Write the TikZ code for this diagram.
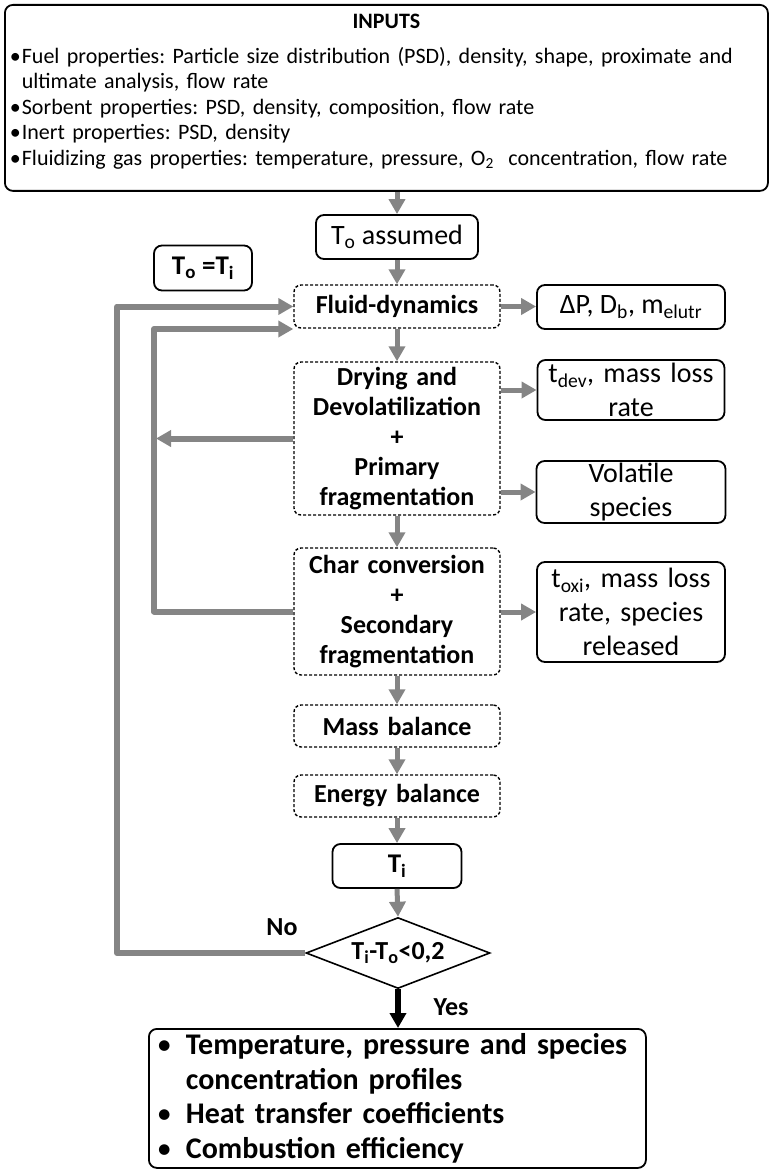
\documentclass[tikz,border=0pt]{standalone}
\usepackage{fontspec}
\setmainfont{Carlito}
\frenchspacing
\usetikzlibrary{positioning,calc,shapes.geometric,arrows.meta}
\definecolor{flowgray}{HTML}{858585}
\tikzset{
  inbox/.style={draw=black, line width=1.8pt, rounded corners=8pt, align=center,
                inner sep=2pt, font=\fontsize{28}{34}\selectfont},
  stepbox/.style={draw=black, line width=1.4pt, dash pattern=on 3pt off 2pt, rounded corners=7pt,
                  align=center, minimum width=206pt, text width=200pt, inner sep=0pt,
                  font=\bfseries\fontsize{26}{30}\selectfont},
  flow/.style={-{Triangle[length=15pt,width=16pt]}, draw=flowgray, line width=5pt},
  back/.style={flow, line width=6pt, line join=round},
  tag/.style={font=\bfseries\fontsize{26}{30}\selectfont},
}
\newcommand{\inbullet}{\makebox[12pt][l]{\textbullet}}
\newcommand{\outbullet}{\makebox[29pt][l]{\mdseries\textbullet}}
\begin{document}
\begin{tikzpicture}[x=1pt,y=-1pt]
  \useasboundingbox (0,0) rectangle (770,1169);
  % inputs
  \node[inbox, anchor=north west, minimum width=763pt, minimum height=186pt, text width=753pt,
        align=left, font=\fontsize{22}{25.5}\selectfont] (inputs) at (4,4)
    {\makebox[753pt][c]{\bfseries INPUTS}\\[9pt]
     \inbullet Fuel properties: Particle size distribution (PSD), density, shape, proximate and\\
     \hspace*{12pt}ultimate analysis, flow rate\\
     \inbullet Sorbent properties: PSD, density, composition, flow rate\\
     \inbullet Inert properties: PSD, density\\
     \inbullet Fluidizing gas properties: temperature, pressure, O\textsubscript{2}\ \ concentration, flow rate\rule[-16pt]{0pt}{16pt}};
  % main column
  \node[inbox, minimum width=162pt, minimum height=44pt] (tassumed) at (397,237) {T\textsubscript{o} assumed};
  \node[inbox, font=\bfseries\fontsize{27}{30}\selectfont, minimum width=98pt, minimum height=45pt] (tequal) at (203,268) {T\textsubscript{o} =T\textsubscript{i}};
  \node[stepbox, minimum height=43pt] (fluid) at (397,306.5) {Fluid-dynamics};
  \node[stepbox, minimum height=153pt] (drying) at (397,438.5) {Drying and\\Devolatilization\\+\\Primary\\fragmentation};
  \node[stepbox, minimum height=127pt] (char) at (397,611.5) {Char conversion\\+\\Secondary\\fragmentation};
  \node[stepbox, minimum height=42pt] (mass) at (397,726) {Mass balance};
  \node[stepbox, minimum height=42pt] (energy) at (397,796) {Energy balance};
  \node[inbox, font=\bfseries\fontsize{27}{30}\selectfont, minimum width=129pt, minimum height=44pt] (ti) at (397,866) {T\textsubscript{i}};
  \node[draw=black, line width=1.6pt, diamond, aspect=2.6, minimum width=184pt, minimum height=71pt, inner sep=0pt,
        font=\bfseries\fontsize{26}{30}\selectfont] (decide) at (398,953) {T\textsubscript{i}-T\textsubscript{o}<0,2};
  \node[tag] (no) at (282,927) {No};
  \node[tag] (yes) at (451,1007) {Yes};
  % results on the right
  \node[inbox, minimum width=188pt, minimum height=44pt] (dp) at (631,307) {ΔP, D\textsubscript{b}, m\textsubscript{elutr}};
  \node[inbox, minimum width=187pt, minimum height=60pt, text width=183pt] (tdev) at (631,390) {t\textsubscript{dev}, mass loss\\rate};
  \node[inbox, minimum width=189pt, minimum height=60pt, text width=183pt] (volatile) at (631,492) {Volatile\\species};
  \node[inbox, minimum width=188pt, minimum height=100pt, text width=183pt] (toxi) at (631,612) {t\textsubscript{oxi}, mass loss\\rate, species\\released};
  % outputs
  \node[inbox, anchor=north west, minimum width=497pt, minimum height=139pt, text width=481pt, inner xsep=8pt, inner ysep=0pt,
        align=left, font=\bfseries\fontsize{30}{34.5}\selectfont] (outputs) at (148,1028)
    {\outbullet Temperature, pressure and species\\
     \hspace*{29pt}concentration profiles\\
     \outbullet Heat transfer coefficients\\
     \outbullet Combustion efficiency};
  % connectors
  \draw[flow] (inputs.south -| tassumed) -- (tassumed.north);
  \foreach \a/\b in {tassumed/fluid,fluid/drying,drying/char,char/mass,mass/energy,energy/ti,ti/decide}
    \draw[flow] (\a.south) -- (\b.north);
  \draw[flow] (fluid.east) -- (fluid.east -| dp.west);
  \foreach \b in {tdev,volatile,toxi}
    \draw[flow] (drying.east |- \b.west) -- (\b.west);
  \draw[-{Triangle[length=15pt,width=16pt]}, line width=6pt] (decide.south) -- (outputs.north -| decide);
  % iteration loops
  \coordinate (outer) at (117,306.5);
  \coordinate (inner) at (154,329);
  \draw[back] (decide.west) -| (outer) -- (fluid.west);
  \draw[back] (char.west) -| (inner) -- (inner -| fluid.west);
  \draw[back] (drying.west) -- ($(drying.west -| inner)+(2,0)$);
\end{tikzpicture}
\end{document}
